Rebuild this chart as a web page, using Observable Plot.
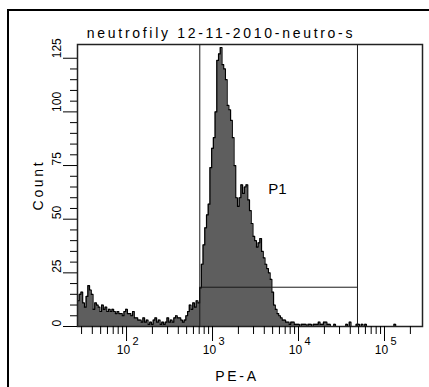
<!DOCTYPE html>
<html><head><meta charset="utf-8">
<script src="https://cdn.jsdelivr.net/npm/d3@7"></script>
<script src="https://cdn.jsdelivr.net/npm/@observablehq/plot@0.6"></script>
<style>
html,body{margin:0;padding:0;background:#fff;overflow:hidden;}
#wrap{position:relative;width:429px;height:387px;overflow:hidden;}
#border{position:absolute;left:7px;top:9px;width:600px;height:600px;border-left:2px solid #000;border-top:2px solid #000;}
#chart{position:absolute;left:0;top:0;}
</style></head><body>
<div id="wrap"><div id="border"></div><div id="chart"></div></div>
<script>
const title = "neutrofily 12-11-2010-neutro-s";
const xLabel = "PE-A";
const yLabel = "Count";
const gateName = "P1";

// PE-A channel positions (log-spaced histogram bins)
const peA = [
  27.5, 28.8, 30.2, 31.6, 33.1, 34.7, 36.3, 38.0, 39.8, 41.7, 43.7, 45.7, 47.9, 50.1, 52.5, 55.0, 57.5, 60.3, 63.1, 66.1, 69.2, 72.4, 75.9, 79.4, 83.2, 87.1, 91.2, 95.5,
  100, 104.7, 109.6, 114.8, 120.2, 125.9, 131.8, 138.0, 144.5, 151.4, 158.5, 166.0, 173.8, 182.0, 190.5, 199.5, 208.9, 218.8, 229.1, 239.9, 251.2, 263.0, 275.4, 288.4, 302.0, 316.2, 331.1, 346.7, 363.1, 380.2, 398.1, 416.9, 436.5, 457.1, 478.6, 501.2, 524.8, 549.5, 575.4, 602.6, 631.0, 660.7, 691.8, 724.4, 758.6, 794.3, 831.8, 871.0, 912.0, 955.0,
  1000, 1047, 1096, 1148, 1202, 1259, 1318, 1380, 1445, 1514, 1585, 1660, 1738, 1820, 1905, 1995, 2089, 2188, 2291, 2399, 2512, 2630, 2754, 2884, 3020, 3162, 3311, 3467, 3631, 3802, 3981, 4169, 4365, 4571, 4786, 5012, 5248, 5495, 5754, 6026, 6310, 6607, 6918, 7244, 7586, 7943, 8318, 8710, 9120, 9550,
  10000, 10470, 10960, 11480, 12020, 12590, 13180, 13800, 14450, 15140, 15850, 16600, 17380, 18200, 19050, 19950, 20890, 21880, 22910, 23990, 25120, 26300, 27540, 28840, 30200, 31620, 33110, 34670, 36310, 38020, 39810, 41690, 43650, 45710, 47860, 50120, 52480, 54950, 57540, 60260, 63100, 66070, 69180, 72440, 75860, 79430, 83180, 87100, 91200, 95500,
  100000, 104700, 109600, 114800, 120200, 125900, 131800, 138000, 144500, 151400, 158500, 166000, 173800, 182000, 190500, 199500, 208900, 218800, 229100, 239900, 251200
];
// event counts per bin
const counts = [
  12, 15, 16, 11, 9, 14, 19, 17, 15, 8, 11, 10, 9, 7, 10, 8, 9, 7, 8, 7, 8, 7, 6, 7, 6, 6, 5, 7,
  8, 6, 6, 5, 7, 4, 4, 3, 3, 2, 4, 2, 3, 1, 2, 1, 3, 4, 2, 3, 1, 2, 1, 2, 4, 2, 3, 2, 4, 5, 4, 4, 3, 2, 3, 5, 7, 10, 8, 11, 9, 12, 11, 18, 29, 38, 46, 52, 57, 74,
  83, 88, 100, 124, 127, 130, 122, 120, 115, 103, 101, 96, 88, 75, 60, 56, 60, 66, 62, 65, 66, 59, 54, 48, 42, 40, 37, 39, 41, 35, 32, 29, 27, 25, 22, 16, 10, 8, 6, 5, 4, 3, 3, 2, 2, 1, 2, 2, 1, 1,
  1, 0, 1, 1, 1, 0, 1, 1, 0, 1, 1, 1, 2, 1, 1, 2, 2, 1, 1, 0, 0, 1, 0, 0, 0, 0, 0, 0, 1, 0, 2, 0, 0, 0, 1, 1, 0, 1, 0, 1, 0, 0, 0, 0, 0, 0, 0, 0, 0, 0,
  0, 0, 0, 0, 0, 0, 1, 0, 0, 0, 0, 0, 0, 0, 0, 0, 0, 0, 0, 0, 0
];

const gateP1 = [711, 48500];     // P1 interval gate bounds (PE-A)
const gateLevel = 18.3;          // P1 gate bar level (count)
const gateLabelPos = {x: 5700, y: 64};

const yMajor = [0, 25, 50, 75, 100, 125];
const yMinor = [5, 10, 15, 20, 30, 35, 40, 45, 55, 60, 65, 70, 80, 85, 90, 95, 105, 110, 115, 120];
const xMajor = [100, 1000, 10000, 100000];
const xMinor = [30, 40, 50, 60, 70, 80, 90, 200, 300, 400, 500, 600, 700, 800, 900,
  2000, 3000, 4000, 5000, 6000, 7000, 8000, 9000, 20000, 30000, 40000, 50000, 60000, 70000, 80000, 90000, 200000];

const data = peA.map((x, i) => ({x, y: counts[i]}));
const FONT = "'Liberation Sans', Arial, sans-serif";

const plot = Plot.plot({
  width: 429, height: 387,
  marginLeft: 77, marginRight: 7, marginTop: 44, marginBottom: 61,
  x: {type: "log", domain: [26.9, 276700]},
  y: {domain: [0, 131.4]},
  style: {fontFamily: FONT, background: "transparent", color: "#000"},
  marks: [
    Plot.areaY(data, {x: "x", y: "y", curve: "step", fill: "#5e5e5e"}),
    Plot.lineY(data, {x: "x", y: "y", curve: "step", stroke: "#000", strokeWidth: 1.2}),
    Plot.ruleX(gateP1, {stroke: "#1a1a1a", strokeWidth: 1}),
    Plot.ruleY([gateLevel], {x1: gateP1[0], x2: gateP1[1], stroke: "#1a1a1a", strokeWidth: 1}),
    Plot.text([gateLabelPos], {x: "x", y: "y", text: () => gateName, fontSize: 15, ariaLabel: "gatelabel"}),
    Plot.frame({stroke: "#222", strokeWidth: 1.5}),
    Plot.axisY({ticks: yMajor, tickSize: 14, tickFormat: () => "", label: null, stroke: "#000"}),
    Plot.axisY({ticks: yMinor, tickSize: 7, tickFormat: () => "", label: null, stroke: "#000"}),
    Plot.text(yMajor, {y: d => d, text: d => String(d), frameAnchor: "left", dx: -20, rotate: -90, fontSize: 12, ariaLabel: "ylab"}),
    Plot.axisX({ticks: xMajor, tickSize: 15, tickFormat: () => "", label: null, stroke: "#000"}),
    Plot.axisX({ticks: xMinor, tickSize: 8, tickFormat: () => "", label: null, stroke: "#000"}),
    Plot.text(xMajor, {x: d => d, text: () => "10", frameAnchor: "bottom", dx: -3, dy: 27, fontSize: 12, ariaLabel: "xlab"}),
    Plot.text(xMajor, {x: d => d, text: d => String(Math.round(Math.log10(d))), frameAnchor: "bottom", dx: 9, dy: 18.5, fontSize: 11, ariaLabel: "xexp"})
  ]
});

const svg = d3.select(plot);
svg.selectAll('g[aria-label="xlab"] text').style("letter-spacing", "2.5px");
svg.selectAll('g[aria-label="gatelabel"] text').style("letter-spacing", "1.5px");
svg.append("text").attr("x", 221).attr("y", 38).attr("text-anchor", "middle")
  .style("font", "14px " + FONT).style("letter-spacing", "2.7px").text(title);
svg.append("text").attr("transform", "translate(43,185) rotate(-90)").attr("text-anchor", "middle")
  .style("font", "14px " + FONT).style("letter-spacing", "2.7px").text(yLabel);
svg.append("text").attr("x", 237).attr("y", 381).attr("text-anchor", "middle")
  .style("font", "14px " + FONT).style("letter-spacing", "2.7px").text(xLabel);
document.getElementById("chart").appendChild(plot);
</script>
</body></html>
